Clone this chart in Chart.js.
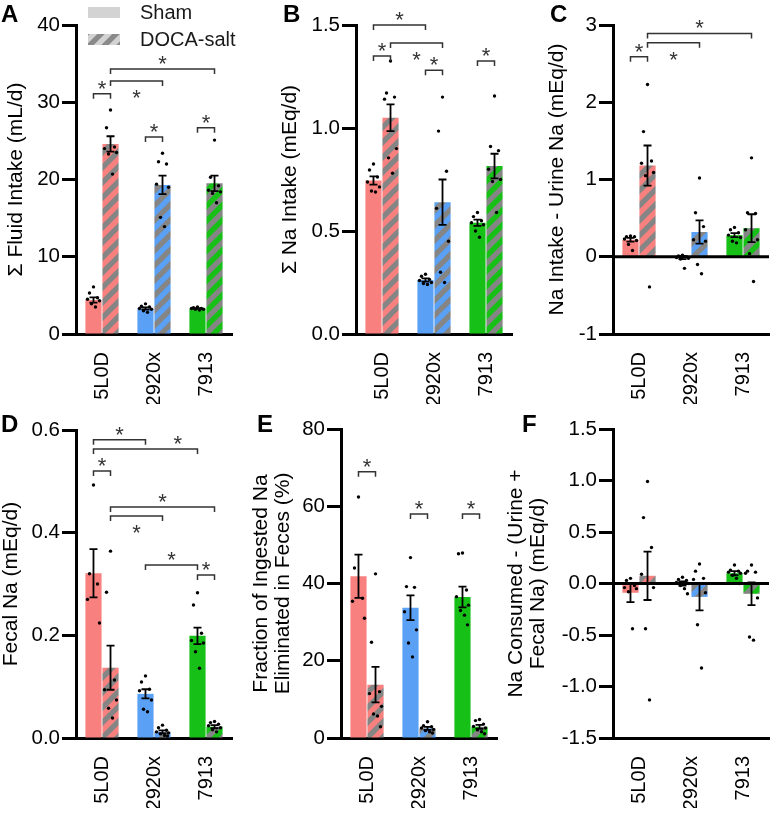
<!DOCTYPE html>
<html>
<head>
<meta charset="utf-8">
<script src="https://cdn.jsdelivr.net/npm/chart.js@4.4.1/dist/chart.umd.min.js"></script>
<style>
html, body { margin: 0; padding: 0; background: #fff; }
#wrap { position: relative; width: 771px; height: 813px; overflow: hidden; }
#wrap canvas { position: absolute; }
</style>
</head>
<body>
<div id="wrap"></div>
<script>
// Sodium balance figure, six panels

const groups = ['5L0D', '2920x', '7913'];
const seriesNames = ['Sham', 'DOCA-salt'];

// A: Σ Fluid Intake (mL/d)
const fluidShamMean = [4.4, 3.3, 3.3];
const fluidShamSem = [0.35, 0.15, 0.06];
const fluidDocaMean = [24.6, 19.3, 19.5];
const fluidDocaSem = [1.0, 1.2, 1.0];
const fluidShamPts = [[6.1, 5.3, 4.7, 4.5, 4.3, 3.9, 3.5], [3.9, 3.6, 3.5, 3.3, 3.2, 3.0, 2.8], [3.5, 3.4, 3.3, 3.3, 3.2, 3.2, 3.1]];
const fluidDocaPts = [[29.0, 26.7, 24.2, 24.0, 23.5, 23.3, 20.7], [23.4, 22.3, 22.0, 19.4, 19.0, 15.1, 13.9], [25.1, 20.3, 19.2, 18.6, 18.4, 18.2, 17.0]];
// significance brackets: [group, series, group, series, height, star side, star position]
const fluidSig = [
    [0, 0, 0, 1, 31.1, 'up', 0.5],
    [0, 1, 1, 1, 32.75, 'down', 0.5],
    [0, 1, 2, 1, 34.3, 'up', 0.5],
    [1, 0, 1, 1, 25.5, 'up', 0.5],
    [2, 0, 2, 1, 26.7, 'up', 0.5]
];

// B: Σ Na Intake (mEq/d)
const naShamMean = [0.745, 0.262, 0.54];
const naShamSem = [0.02, 0.008, 0.015];
const naDocaMean = [1.05, 0.64, 0.815];
const naDocaSem = [0.065, 0.11, 0.06];
const naShamPts = [[0.825, 0.796, 0.762, 0.738, 0.714, 0.694, 0.689], [0.29, 0.28, 0.265, 0.26, 0.25, 0.245, 0.24], [0.59, 0.57, 0.55, 0.54, 0.53, 0.50, 0.47]];
const naDocaPts = [[1.325, 1.17, 1.15, 1.14, 0.90, 0.855, 0.78], [1.15, 0.985, 0.79, 0.61, 0.45, 0.30, 0.25], [1.155, 0.91, 0.89, 0.80, 0.75, 0.74, 0.59]];
const naSig = [
    [0, 0, 0, 1, 1.35, 'up', 0.5],
    [0, 0, 1, 0, 1.50, 'up', 0.5],
    [0, 1, 1, 1, 1.413, 'down', 0.5],
    [1, 0, 1, 1, 1.28, 'up', 0.5],
    [2, 0, 2, 1, 1.325, 'up', 0.5]
];

// C: Na Intake - Urine Na (mEq/d)
const balShamMean = [0.22, -0.01, 0.28];
const balShamSem = [0.025, 0.02, 0.025];
const balDocaMean = [1.18, 0.32, 0.37];
const balDocaSem = [0.26, 0.15, 0.18];
const balShamPts = [[0.27, 0.26, 0.26, 0.23, 0.21, 0.16, 0.08], [0.02, 0.01, 0.0, -0.01, -0.02, -0.03, -0.15], [0.38, 0.35, 0.31, 0.28, 0.25, 0.2, 0.18]];
const balDocaPts = [[2.23, 1.62, 1.24, 1.21, 1.09, 1.05, -0.39], [1.02, 0.57, 0.39, 0.22, 0.2, -0.1, -0.22], [1.28, 0.57, 0.56, 0.35, 0.22, 0.04, -0.32]];
const balSig = [
    [0, 0, 0, 1, 2.59, 'up', 0.5],
    [0, 1, 1, 1, 2.77, 'down', 0.5],
    [0, 1, 2, 1, 2.89, 'up', 0.5]
];

// D: Fecal Na (mEq/d)
const fecShamMean = [0.321, 0.086, 0.199];
const fecShamSem = [0.047, 0.009, 0.016];
const fecDocaMean = [0.137, 0.012, 0.022];
const fecDocaSem = [0.043, 0.003, 0.003];
const fecShamPts = [[0.493, 0.32, 0.30, 0.27, 0.224], [0.121, 0.109, 0.095, 0.092, 0.074, 0.056, 0.051], [0.283, 0.259, 0.204, 0.19, 0.185, 0.168, 0.136]];
const fecDocaPts = [[0.364, 0.284, 0.113, 0.094, 0.074, 0.058, 0.039], [0.025, 0.02, 0.015, 0.012, 0.01, 0.008, 0.005, 0.004], [0.032, 0.03, 0.027, 0.024, 0.02, 0.016, 0.012]];
const fecSig = [
    [0, 0, 1, 0, 0.581, 'up', 0.5],
    [0, 0, 2, 0, 0.563, 'up', 0.81],
    [0, 0, 0, 1, 0.52, 'up', 0.5],
    [0, 1, 2, 1, 0.45, 'up', 0.5],
    [0, 1, 1, 1, 0.4325, 'down', 0.5],
    [1, 0, 2, 0, 0.337, 'up', 0.5],
    [2, 0, 2, 1, 0.3175, 'up', 0.5]
];

// E: Fraction of Ingested Na Eliminated in Feces (%)
const fracShamMean = [41.9, 33.7, 36.5];
const fracShamSem = [5.6, 3.2, 2.7];
const fracDocaMean = [13.8, 2.5, 2.9];
const fracDocaSem = [4.6, 0.4, 0.5];
const fracShamPts = [[62.4, 44.0, 36.2, 35.4, 31.0], [46.7, 39.2, 39.0, 32.7, 28.0, 24.6, 21.0], [47.9, 47.7, 38.3, 36.6, 34.4, 33.0, 31.8, 29.3]];
const fracDocaPts = [[42.5, 24.8, 12.0, 11.5, 8.2, 6.2, 5.7, 2.9], [4.2, 3.2, 2.9, 2.6, 2.2, 1.9, 1.6, 1.3], [4.8, 4.5, 3.6, 3.0, 2.6, 2.1, 1.6, 1.1]];
const fracSig = [
    [0, 0, 0, 1, 68.9, 'up', 0.5],
    [1, 0, 1, 1, 58.0, 'up', 0.5],
    [2, 0, 2, 1, 58.0, 'up', 0.5]
];

// F: Na Consumed - (Urine + Fecal Na) (mEq/d)
const netShamMean = [-0.09, 0.0, 0.1];
const netShamSem = [0.09, 0.02, 0.02];
const netDocaMean = [0.075, -0.13, -0.1];
const netDocaSem = [0.235, 0.13, 0.11];
const netShamPts = [[0.05, 0.03, -0.02, -0.04, -0.05, -0.08, -0.44], [0.06, 0.04, 0.03, 0.01, 0.0, -0.02, -0.05, -0.1], [0.18, 0.13, 0.12, 0.11, 0.10, 0.08, 0.05, 0.0]];
const netDocaPts = [[0.99, 0.64, 0.35, 0.09, -0.04, -0.44, -1.13], [0.19, 0.12, 0.05, 0.04, -0.09, -0.40, -0.82], [0.18, 0.12, 0.11, 0.10, -0.14, -0.52, -0.55]];
const netSig = [];

const fontFamily = "'Liberation Sans', Arial, Helvetica, sans-serif";
Chart.defaults.font.family = fontFamily;
Chart.defaults.color = '#000';
Chart.defaults.animation = false;

const barColors = ['#f8807f', '#5aa1f6', '#17c017'];
const stripeGray = '#858585';
const jitter = [0, -4, 4, -6, 6, -2, 2, 5];

function hatch(base, stripe) {
    const s = 15;
    const c = document.createElement('canvas');
    c.width = s;
    c.height = s;
    const x = c.getContext('2d');
    x.fillStyle = base;
    x.fillRect(0, 0, s, s);
    x.strokeStyle = stripe;
    x.lineWidth = 5.3;
    x.beginPath();
    x.moveTo(-s / 2, s / 2); x.lineTo(s / 2, -s / 2);
    x.moveTo(0, s); x.lineTo(s, 0);
    x.moveTo(s / 2, 1.5 * s); x.lineTo(1.5 * s, s / 2);
    x.stroke();
    return x.createPattern(c, 'repeat');
}

const docaColors = barColors.map(c => hatch(c, stripeGray));

function drawMarks(chart, cfg) {
    const ctx = chart.ctx;
    const ys = chart.scales.y;
    const area = chart.chartArea;
    const px = (s, g) => chart.getDatasetMeta(s).data[g].x;
    ctx.save();

    if (cfg.zeroLine) {
        const y0 = ys.getPixelForValue(0);
        ctx.strokeStyle = '#000';
        ctx.lineWidth = 3;
        ctx.beginPath();
        ctx.moveTo(area.left, y0);
        ctx.lineTo(area.right, y0);
        ctx.stroke();
    }

    // individual animals
    ctx.fillStyle = '#000';
    cfg.points.forEach((series, s) => series.forEach((vals, g) => vals.forEach((v, i) => {
        ctx.beginPath();
        ctx.arc(px(s, g) + jitter[i % jitter.length], ys.getPixelForValue(v), 1.7, 0, 2 * Math.PI);
        ctx.fill();
    })));

    // mean ± SEM
    ctx.strokeStyle = '#000';
    ctx.lineWidth = 1.8;
    cfg.mean.forEach((means, s) => means.forEach((m, g) => {
        const e = cfg.sem[s][g];
        const x = px(s, g);
        const y1 = ys.getPixelForValue(m + e);
        const y2 = ys.getPixelForValue(m - e);
        ctx.beginPath();
        ctx.moveTo(x, y1); ctx.lineTo(x, y2);
        ctx.moveTo(x - 4, y1); ctx.lineTo(x + 4, y1);
        ctx.moveTo(x - 4, y2); ctx.lineTo(x + 4, y2);
        ctx.stroke();
    }));

    // brackets
    ctx.strokeStyle = '#333';
    ctx.fillStyle = '#333';
    ctx.lineWidth = 1.5;
    ctx.font = '22px ' + fontFamily;
    ctx.textAlign = 'center';
    ctx.textBaseline = 'alphabetic';
    cfg.sig.forEach(([g1, s1, g2, s2, v, side, pos]) => {
        const x1 = px(s1, g1);
        const x2 = px(s2, g2);
        const y = ys.getPixelForValue(v);
        ctx.beginPath();
        ctx.moveTo(x1, y + 5);
        ctx.lineTo(x1, y);
        ctx.lineTo(x2, y);
        ctx.lineTo(x2, y + 5);
        ctx.stroke();
        ctx.fillText('*', x1 + (x2 - x1) * pos, side === 'up' ? y + 2 : y + 24);
    });
    ctx.restore();
}

function drawLetter(chart, cfg) {
    const ctx = chart.ctx;
    ctx.save();
    ctx.fillStyle = '#000';
    ctx.font = 'bold 24px ' + fontFamily;
    ctx.textAlign = 'left';
    ctx.textBaseline = 'alphabetic';
    ctx.fillText(cfg.letter, cfg.letterPos[0], cfg.letterPos[1]);
    ctx.restore();
}

function drawLegend(chart) {
    const ctx = chart.ctx;
    const swatches = ['#d3d3d3', hatch('#d3d3d3', '#8a8a8a')];
    ctx.save();
    ctx.font = '20px ' + fontFamily;
    ctx.textAlign = 'left';
    ctx.textBaseline = 'middle';
    seriesNames.forEach((name, i) => {
        const y = 7 + i * 27;
        ctx.fillStyle = swatches[i];
        ctx.fillRect(88, y, 32, 11);
        ctx.fillStyle = '#1a1a1a';
        ctx.fillText(name, 140, y + 6.5);
    });
    ctx.restore();
}

function makePanel(cfg) {
    const [cx, cy, cw, ch] = cfg.cell;
    const [L, T, R, B] = cfg.area;
    const xH = 70;
    const titleLH = 1.05;
    const canvas = document.createElement('canvas');
    canvas.width = cw;
    canvas.height = ch;
    canvas.style.left = cx + 'px';
    canvas.style.top = cy + 'px';
    canvas.style.width = cw + 'px';
    canvas.style.height = ch + 'px';
    document.getElementById('wrap').appendChild(canvas);

    return new Chart(canvas, {
        type: 'bar',
        data: {
            labels: groups,
            datasets: [
                { label: seriesNames[0], data: cfg.mean[0], backgroundColor: barColors },
                { label: seriesNames[1], data: cfg.mean[1], backgroundColor: docaColors }
            ]
        },
        options: {
            responsive: false,
            animation: false,
            events: [],
            layout: {
                padding: { left: 0, top: T - cy, right: cx + cw - R, bottom: cy + ch - B - xH }
            },
            datasets: { bar: { categoryPercentage: 0.655, barPercentage: 0.95 } },
            plugins: { legend: { display: false }, tooltip: { enabled: false } },
            scales: {
                x: {
                    grid: { display: false, drawTicks: false },
                    border: { display: true, color: '#000', width: 3 },
                    ticks: { autoSkip: false, maxRotation: 90, minRotation: 90, padding: 18, color: '#000', font: { size: 20 } },
                    afterFit: s => { s.height = xH; s.paddingLeft = 0; s.paddingRight = 0; }
                },
                y: {
                    min: cfg.min,
                    max: cfg.max,
                    ticks: {
                        stepSize: cfg.step,
                        padding: 2,
                        color: '#000',
                        font: { size: 20.5 },
                        callback: v => v.toFixed(cfg.decimals)
                    },
                    grid: { drawOnChartArea: false, tickLength: 14, tickWidth: 3, tickColor: '#000', color: '#000' },
                    border: { color: '#000', width: 3 },
                    title: {
                        display: true,
                        text: cfg.title,
                        color: '#000',
                        font: { size: 21, lineHeight: titleLH },
                        padding: { top: cfg.titleX - cx - 21 * titleLH / 2, bottom: 0 }
                    },
                    afterFit: s => { s.width = L - cx; s.paddingTop = 0; s.paddingBottom = 0; }
                }
            }
        },
        plugins: [{
            id: 'panel' + cfg.letter,
            afterDatasetsDraw: chart => drawMarks(chart, cfg),
            afterDraw: chart => {
                drawLetter(chart, cfg);
                if (cfg.legend) drawLegend(chart);
            }
        }]
    });
}

makePanel({
    letter: 'A', letterPos: [1, 22], legend: true,
    cell: [0, 0, 255, 405], area: [76, 25, 232, 334],
    min: 0, max: 40, step: 10, decimals: 0,
    title: 'Σ Fluid Intake (mL/d)', titleX: 16,
    mean: [fluidShamMean, fluidDocaMean], sem: [fluidShamSem, fluidDocaSem],
    points: [fluidShamPts, fluidDocaPts], sig: fluidSig
});

makePanel({
    letter: 'B', letterPos: [28, 22],
    cell: [255, 0, 262, 405], area: [356, 25, 512, 334],
    min: 0, max: 1.5, step: 0.5, decimals: 1,
    title: 'Σ Na Intake (mEq/d)', titleX: 290,
    mean: [naShamMean, naDocaMean], sem: [naShamSem, naDocaSem],
    points: [naShamPts, naDocaPts], sig: naSig
});

makePanel({
    letter: 'C', letterPos: [50, 22], zeroLine: true,
    cell: [500, 0, 271, 405], area: [613, 25, 769, 334],
    min: -1, max: 3, step: 1, decimals: 0,
    title: 'Na Intake - Urine Na (mEq/d)', titleX: 557,
    mean: [balShamMean, balDocaMean], sem: [balShamSem, balDocaSem],
    points: [balShamPts, balDocaPts], sig: balSig
});

makePanel({
    letter: 'D', letterPos: [1, 27],
    cell: [0, 405, 255, 408], area: [76, 430, 232, 738],
    min: 0, max: 0.6, step: 0.2, decimals: 1,
    title: 'Fecal Na (mEq/d)', titleX: 11,
    mean: [fecShamMean, fecDocaMean], sem: [fecShamSem, fecDocaSem],
    points: [fecShamPts, fecDocaPts], sig: fecSig
});

makePanel({
    letter: 'E', letterPos: [7, 27],
    cell: [250, 405, 265, 408], area: [341, 429, 497, 738],
    min: 0, max: 80, step: 20, decimals: 0,
    title: ['Fraction of Ingested Na', 'Eliminated in Feces (%)'], titleX: 261,
    mean: [fracShamMean, fracDocaMean], sem: [fracShamSem, fracDocaSem],
    points: [fracShamPts, fracDocaPts], sig: fracSig
});

makePanel({
    letter: 'F', letterPos: [22, 27], zeroLine: true,
    cell: [500, 405, 271, 408], area: [613, 429, 769, 738],
    min: -1.5, max: 1.5, step: 0.5, decimals: 1,
    title: ['Na Consumed - (Urine +', 'Fecal Na) (mEq/d)'], titleX: 516,
    mean: [netShamMean, netDocaMean], sem: [netShamSem, netDocaSem],
    points: [netShamPts, netDocaPts], sig: netSig
});
</script>
</body>
</html>
